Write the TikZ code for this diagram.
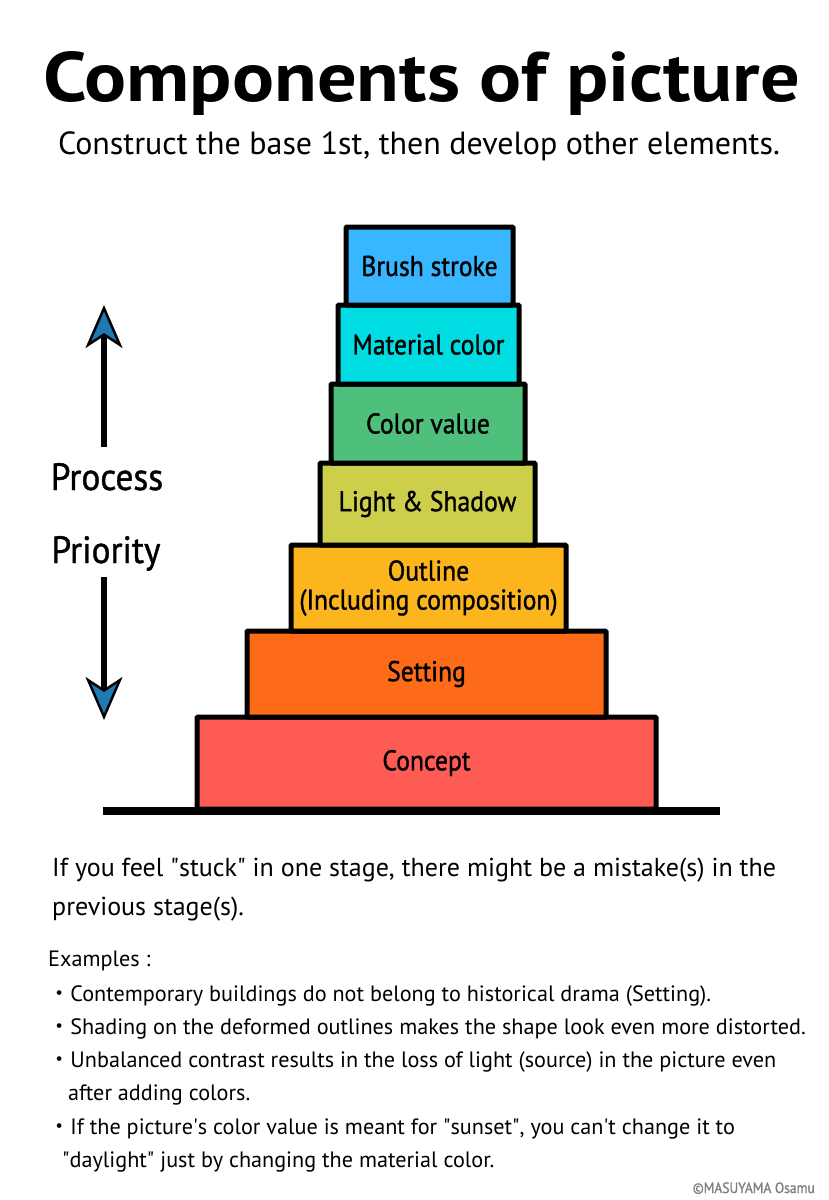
\documentclass[tikz,border=0pt]{standalone}
\usepackage{fontspec}
\setmainfont{PT Sans}
\newfontfamily\jpfont{Noto Sans CJK JP}
\newfontfamily\stagefont[FakeStretch=0.9,FakeBold=1.2]{PT Sans}
\newfontfamily\sidefont[FakeStretch=0.93,FakeBold=1]{PT Sans}
\newfontfamily\titlefont[FakeStretch=1.12]{PT Sans}
\usetikzlibrary{arrows.meta}
\pgfdeclarelayer{edgelayer}
\pgfdeclarelayer{nodelayer}
\pgfsetlayers{edgelayer,main,nodelayer}
\definecolor{brushblue}{HTML}{38B6FF}
\definecolor{matcyan}{HTML}{00DDE2}
\definecolor{valgreen}{HTML}{4FC07B}
\definecolor{lightolive}{HTML}{CDCF4B}
\definecolor{outlineamber}{HTML}{FDB51D}
\definecolor{settingorange}{HTML}{FD6B19}
\definecolor{conceptred}{HTML}{FF5B55}
\definecolor{tipblue}{HTML}{2179B4}
\tikzstyle{none}=[inner sep=0pt]
\tikzstyle{stage}=[draw=black,line width=5pt,rounded corners=1pt,inner sep=0pt,align=center,font=\stagefont\fontsize{28.5}{29}\selectfont]
\tikzstyle{side}=[inner sep=0pt,anchor=base,font=\sidefont\fontsize{38}{40}\selectfont]
\tikzstyle{prog}=[line width=6.5pt,-{Stealth[length=43pt,width=37pt,inset=12pt,line width=2.5pt,fill=tipblue]}]
\tikzstyle{body}=[inner sep=0pt,anchor=base west,font=\fontsize{26}{28}\selectfont]
\tikzstyle{small}=[inner sep=0pt,anchor=base west,font=\fontsize{22.2}{24}\selectfont]

\begin{document}
\begin{tikzpicture}[x=1pt,y=-1pt]
	\useasboundingbox (0,0) rectangle (828,1200);
	\node [style=none,anchor=base,font=\titlefont\bfseries\fontsize{70}{72}\selectfont] (t) at (422,101) {Components of picture};
	\node [style=none,anchor=base,font=\fontsize{32}{34}\selectfont] (s) at (419,154) {Construct the base 1st, then develop other elements.};
	\begin{pgfonlayer}{nodelayer}
		\node [style=stage,fill=conceptred,minimum width=459pt,minimum height=92pt] (0) at (426.5,763) {Concept};
		\node [style=stage,fill=settingorange,minimum width=359pt,minimum height=86pt] (1) at (426.5,674) {Setting};
		\node [style=stage,fill=outlineamber,minimum width=275pt,minimum height=86pt] (2) at (428.5,588) {Outline\\(Including composition)};
		\node [style=stage,fill=lightolive,minimum width=215pt,minimum height=82pt] (3) at (427.5,504) {Light \& Shadow};
		\node [style=stage,fill=valgreen,minimum width=194pt,minimum height=79pt] (4) at (428,423.5) {Color value};
		\node [style=stage,fill=matcyan,minimum width=181pt,minimum height=79pt] (5) at (428.5,344.5) {Material color};
		\node [style=stage,fill=brushblue,minimum width=167pt,minimum height=78pt] (6) at (429.5,266) {Brush stroke};
	\end{pgfonlayer}
	\node [style=side] (p) at (107,490) {Process};
	\node [style=side] (q) at (106,563) {Priority};
	\node [style=none] (a0) at (104,447) {};
	\node [style=none] (a1) at (104,305) {};
	\node [style=none] (a2) at (104,577) {};
	\node [style=none] (a3) at (104,720) {};
	\node [style=none] (g0) at (103,811) {};
	\node [style=none] (g1) at (720,811) {};
	\begin{pgfonlayer}{edgelayer}
		\fill[white] (0,0) rectangle (828,1200);
		\draw[style=prog] (a0.center) to (a1.center);
		\draw[style=prog] (a2.center) to (a3.center);
		\draw[line width=8pt] (g0.center) to (g1.center);
	\end{pgfonlayer}
	\node [style=body] (l0) at (52,876) {If you feel \textquotedbl stuck\textquotedbl{} in one stage, there might be a mistake(s) in the};
	\node [style=body] (l1) at (52,915) {previous stage(s).};
	\node [style=small] (e) at (48,966) {Examples :};
	\node [style=small] (e0) at (48,1001) {{\jpfont ・}Contemporary buildings do not belong to historical drama (Setting).};
	\node [style=small] (e1) at (48,1034) {{\jpfont ・}Shading on the deformed outlines makes the shape look even more distorted.};
	\node [style=small] (e2) at (48,1067) {{\jpfont ・}Unbalanced contrast results in the loss of light (source) in the picture even};
	\node [style=small] (e3) at (68,1100) {after adding colors.};
	\node [style=small] (e4) at (48,1134) {{\jpfont ・}If the picture\textquotesingle s color value is meant for \textquotedbl sunset\textquotedbl, you can\textquotesingle t change it to};
	\node [style=small] (e5) at (62,1167) {\textquotedbl daylight\textquotedbl{} just by changing the material color.};
	\node [style=none,anchor=base east,text=gray,font=\stagefont\fontsize{15}{17}\selectfont] (c) at (815,1193) {©MASUYAMA Osamu};
\end{tikzpicture}
\end{document}
